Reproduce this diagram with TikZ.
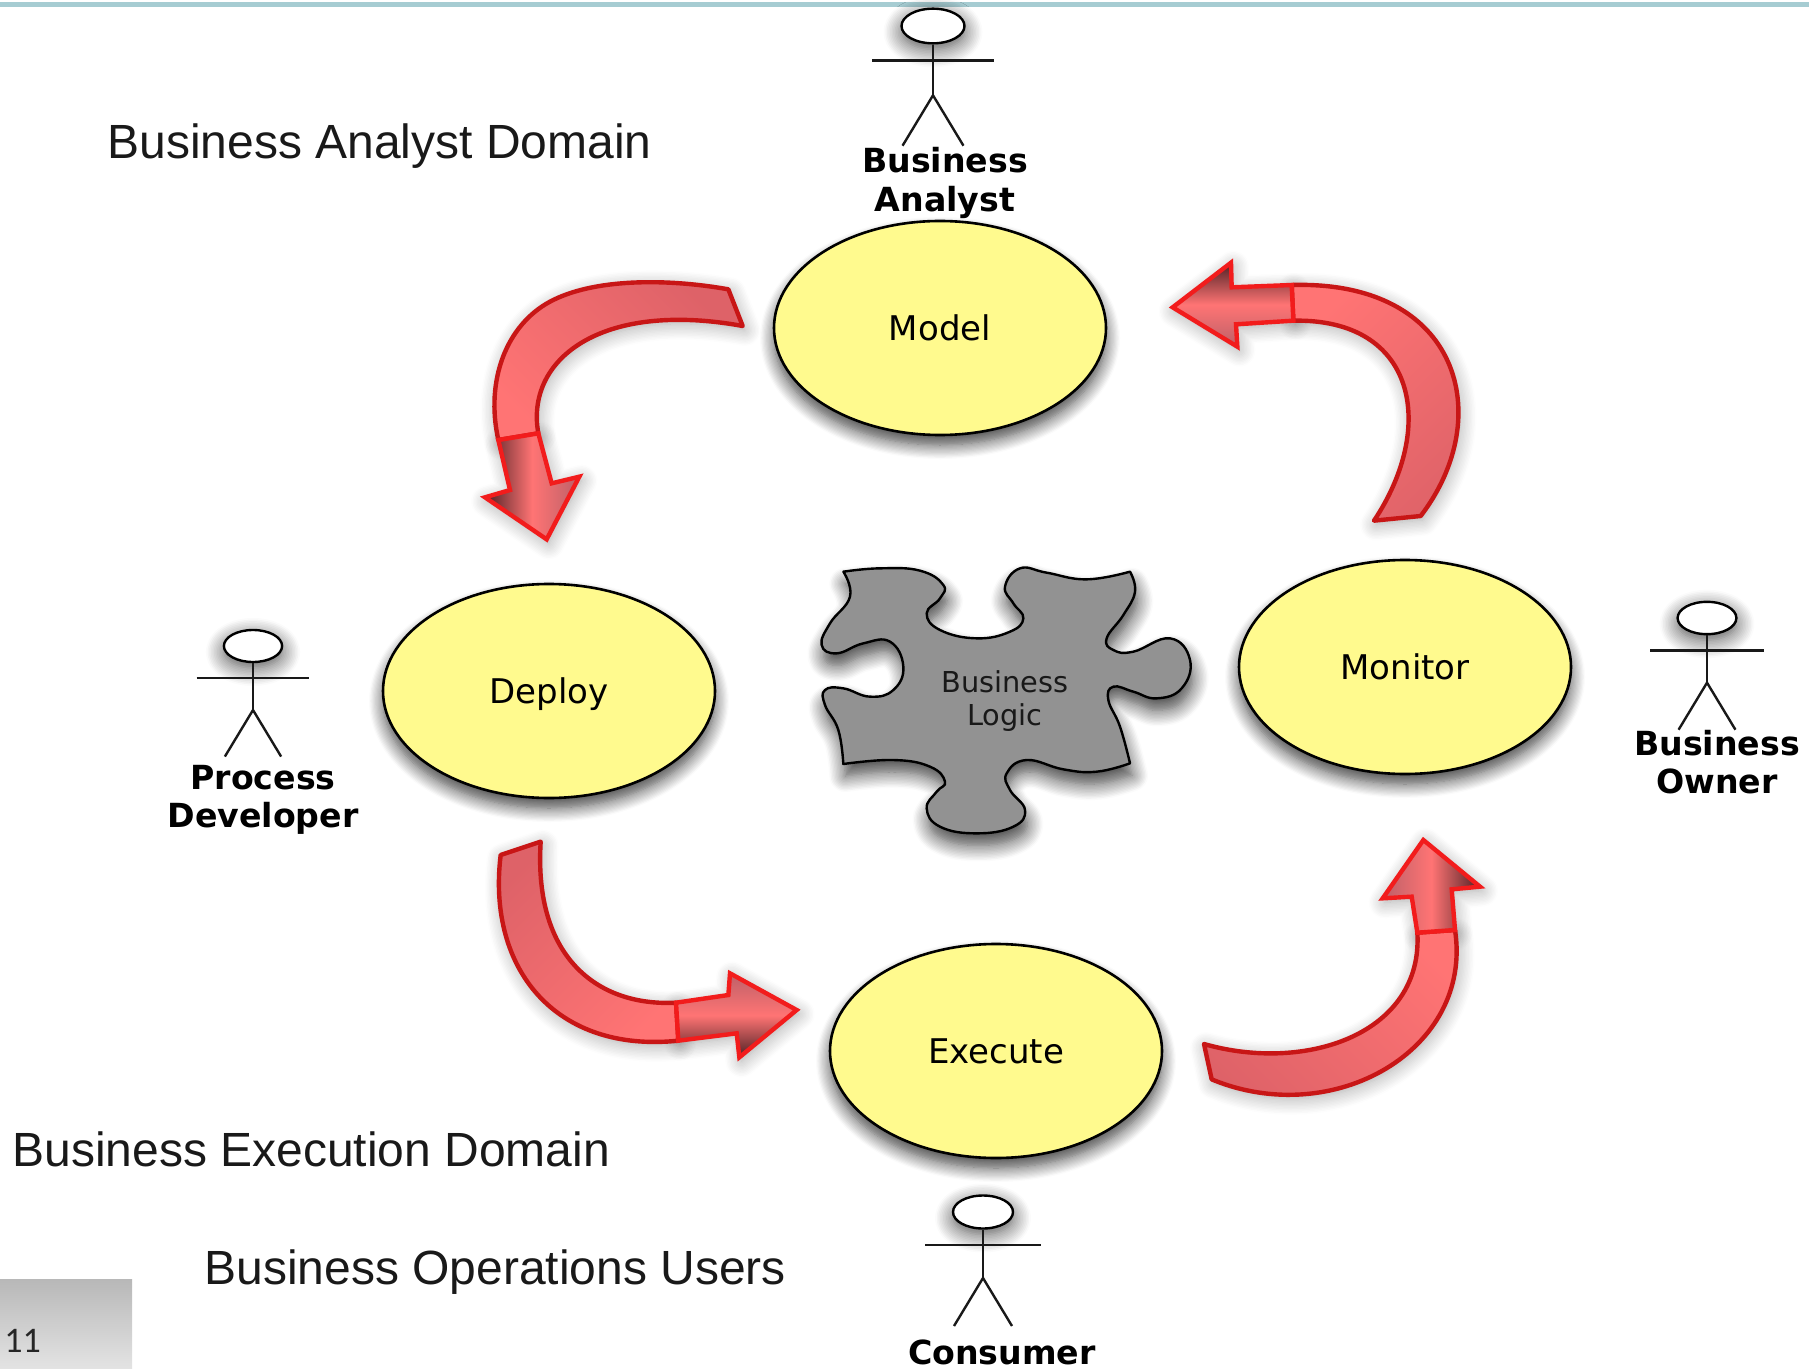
\documentclass[tikz,border=0pt]{standalone}
\usepackage{fontspec}
\setmainfont{Liberation Sans}
\newfontfamily\lucidafont{DejaVu Sans}
\newfontfamily\pagefont{Carlito}
\usepackage{tikz}
\usetikzlibrary{shapes.geometric}
\usetikzlibrary{shadows.blur}
\definecolor{phaseyellow}{HTML}{FFFA8E}
\definecolor{puzzlegray}{HTML}{929292}
\definecolor{bodyline}{HTML}{C81616}
\definecolor{headline}{HTML}{F21C1C}
\definecolor{bodytail}{HTML}{DE6268}
\definecolor{bodyhead}{HTML}{FF7474}
\definecolor{headdark}{HTML}{4E2024}
\definecolor{headside}{HTML}{BC6068}
\definecolor{topbar}{HTML}{A6CCD2}
\tikzset{
	phase/.style={draw,shape=ellipse,line width=1.3pt,fill=phaseyellow,minimum width=166pt,minimum height=107pt,text height=12.4pt,text depth=0pt,
		font=\lucidafont\fontsize{17}{20}\selectfont,blur shadow={shadow xshift=0pt,shadow yshift=-5pt,shadow blur radius=7pt,shadow blur steps=12,shadow opacity=75}},
	actorhead/.style={draw,shape=ellipse,line width=1.2pt,fill=white,minimum width=30pt,minimum height=16.5pt,inner sep=0pt,transform shape,
		blur shadow={shadow xshift=0pt,shadow yshift=-3pt,shadow blur radius=9pt,shadow blur steps=12,shadow opacity=70}},
	actorlimb/.style={line width=1.2pt,black!90},
	actorlabel/.style={align=center,inner sep=0pt,font=\lucidafont\bfseries\fontsize{16.6}{19.3}\selectfont},
	slidetext/.style={anchor=base west,inner sep=0pt,text=black!90,font=\fontsize{24}{28}\selectfont},
	bendbody/.style={draw=bodyline,line width=2.2pt,line join=round,blur shadow={shadow xshift=1pt,shadow yshift=-2pt,shadow blur radius=8pt,shadow blur steps=12,shadow opacity=35}},
	bendshadow/.style={fill=white,blur shadow={shadow xshift=1pt,shadow yshift=-2pt,shadow blur radius=8pt,shadow blur steps=12,shadow opacity=35}},
	bendhead/.style={draw=headline,line width=2.2pt,line join=miter},
	crop/.style={shift={#1},x=.16667pt,y=-.16667pt}
}
\begin{document}
\begin{tikzpicture}[x=.5pt,y=-.5pt]
	\useasboundingbox (0,0) rectangle (1809,1369);
	\fill[topbar] (0,2) rectangle (1809,7);
	\shade[top color=black!28,bottom color=black!11] (0,1279) rectangle (132,1368);
	\node (pagenum) [anchor=base west,inner sep=0pt,text=black!85,font=\pagefont\fontsize{18}{20}\selectfont] at (4,1352) {11};

	\draw (940,328) node (model) [phase] {Model};
	\draw (549,691) node (deploy) [phase] {Deploy};
	\draw (1405,667) node (monitor) [phase] {Monitor};
	\draw (996,1051) node (execute) [phase] {Execute};

	\begin{scope}[crop={(780,540)}]
		\path[draw=black,line width=1.2pt,fill=puzzlegray,line join=round,blur shadow={shadow xshift=1pt,shadow yshift=-6pt,shadow blur radius=8pt,shadow blur steps=12,shadow opacity=75}]
			plot[smooth,tension=.75] coordinates {(190,95) (300,85) (420,92) (490,135) (480,175) (440,220) (480,270) (590,295) (690,275) (730,235) (700,190) (675,140) (720,85) (800,98) (920,118) (1050,95)}
			-- plot[smooth,tension=.75] coordinates {(1050,95) (1065,155) (1030,225) (980,295) (1000,330) (1060,335) (1170,295) (1230,360) (1205,445) (1130,475) (1060,455) (1000,440) (985,480) (1020,560) (1050,670)}
			-- plot[smooth,tension=.75] coordinates {(1050,670) (950,695) (850,688) (740,660) (680,700) (690,750) (735,810) (700,860) (590,880) (480,860) (440,805) (470,755) (495,725) (450,680) (340,660) (190,672)}
			-- plot[smooth,tension=.75] coordinates {(190,672) (175,570) (135,495) (135,450) (190,445) (270,470) (340,450) (370,380) (330,305) (250,310) (170,340) (125,315) (150,250) (210,170) (190,95)}
			-- cycle;
	\end{scope}
	\node (logic) [align=center,inner sep=0pt,text=black!90,font=\lucidafont\fontsize{14.4}{16.7}\selectfont] at (1005,701) {Business\\Logic};

	\begin{scope}[crop={(450,220)}]
		\coordinate (necka1) at (145,660);
		\coordinate (neckb1) at (265,640);
		\def\headshape{(necka1) -- (180,810) -- (105,832) -- (290,958) -- (388,770) -- (305,790) -- (neckb1) -- cycle}
		\path[bendshadow] \headshape;
		\path[bendbody,top color=bodytail,bottom color=bodyhead,shading angle=-45]
			(835,208) .. controls (650,175) and (430,175) .. (300,245) .. controls (170,315) and (105,480) .. (necka1)
			-- (neckb1) .. controls (225,420) and (450,240) .. (878,318) -- cycle;
		\path[bendhead,left color=headdark,right color=headside,middle color=bodyhead] \headshape;
	\end{scope}

	\begin{scope}[crop={(470,820)}]
		\coordinate (necka2) at (625,662);
		\coordinate (neckb2) at (618,548);
		\def\headshape{(neckb2) -- (775,525) -- (780,460) -- (980,570) -- (808,712) -- (800,640) -- (necka2) -- cycle}
		\path[bendshadow] \headshape;
		\path[bendbody,top color=bodytail,bottom color=bodyhead,shading angle=45]
			(92,105) .. controls (50,450) and (260,700) .. (necka2)
			-- (neckb2) .. controls (390,560) and (190,420) .. (212,65) -- cycle;
		\path[bendhead,top color=headside,bottom color=headdark,middle color=bodyhead] \headshape;
	\end{scope}

	\begin{scope}[crop={(1180,820)}]
		\coordinate (necka3) at (825,330);
		\coordinate (neckb3) at (712,338);
		\def\headshape{(neckb3) -- (695,230) -- (608,235) -- (730,60) -- (900,200) -- (815,208) -- (necka3) -- cycle}
		\path[bendshadow] \headshape;
		\path[bendbody,top color=bodyhead,bottom color=bodytail,shading angle=-45]
			(95,778) .. controls (460,930) and (880,690) .. (necka3)
			-- (neckb3) .. controls (730,640) and (380,760) .. (72,672) -- cycle;
		\path[bendhead,left color=headside,right color=headdark,middle color=bodyhead] \headshape;
	\end{scope}

	\begin{scope}[crop={(1150,230)}]
		\coordinate (necka4) at (425,165);
		\coordinate (neckb4) at (430,272);
		\def\headshape{(necka4) -- (245,172) -- (243,98) -- (68,232) -- (262,350) -- (258,283) -- (neckb4) -- cycle}
		\path[bendshadow] \headshape;
		\path[bendbody,top color=bodyhead,bottom color=bodytail,shading angle=45]
			(812,858) .. controls (1040,560) and (930,150) .. (necka4)
			-- (neckb4) .. controls (800,265) and (860,590) .. (672,872) -- cycle;
		\path[bendhead,top color=headdark,bottom color=headside,middle color=bodyhead] \headshape;
	\end{scope}

	\foreach \who/\hx/\hy/\s in {analyst/933/26/1.05,developer/253/646/.97,owner/1707/618/.98,consumer/983/1212/1}{
		\begin{scope}[shift={(\hx,\hy)},scale=\s]
			\draw (0,0) node (\who head) [actorhead] {};
			\coordinate (\who hip) at (0,66);
			\coordinate (\who arml) at (-58,33);
			\coordinate (\who armr) at (58,33);
			\coordinate (\who footl) at (-29,114);
			\coordinate (\who footr) at (29,114);
			\draw[actorlimb] (\who head) -- (\who hip);
			\draw[actorlimb] (\who arml) -- (\who armr);
			\draw[actorlimb] (\who footl) -- (\who hip) -- (\who footr);
		\end{scope}
	}
	\node (analystlabel) [actorlabel] at (945,183) {Business\\Analyst};
	\node (developerlabel) [actorlabel] at (263,800) {Process\\Developer};
	\node (ownerlabel) [actorlabel] at (1717,762) {Business\\Owner};
	\node (consumerlabel) [actorlabel] at (1002,1352) {Consumer};

	\node (analystdomain) [slidetext] at (107,159) {Business Analyst Domain};
	\node (executiondomain) [slidetext] at (12,1166) {Business Execution Domain};
	\node (operationsusers) [slidetext] at (204,1284) {Business Operations Users};
\end{tikzpicture}
\end{document}
